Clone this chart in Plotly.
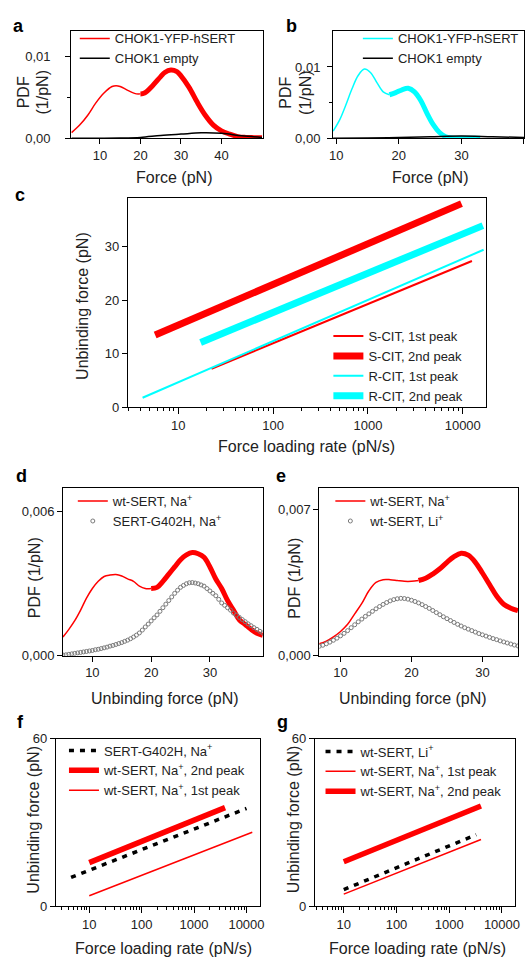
import plotly.graph_objects as go

W, H = 529, 965
FONT = "Liberation Sans, Arial, sans-serif"
RED = "#ff0000"
CYAN = "#00ffff"
GREY = "#7a7a7a"
TXT = "#222222"

# ---------------- data ----------------
# panel a
a_force = [3, 5, 7, 9, 11, 13, 14, 15, 17, 19, 20, 21, 23, 25, 26, 27.5, 29, 30, 32, 34, 36, 38, 40, 42, 44, 46, 48, 50]
a_pdf_hsert = [0.00068, 0.0016, 0.0028, 0.0043, 0.0055, 0.0063, 0.0064, 0.0063, 0.0058, 0.0054, 0.0054, 0.0055,
               0.0064, 0.0075, 0.0080, 0.0083, 0.0081, 0.0076, 0.0062, 0.0044, 0.0028, 0.0016, 0.0009, 0.0005,
               0.0002, 0.0001, 0.00007, 0.00005]
a_split = 20
a_force_empty = [3, 10, 15, 20, 25, 30, 35, 40, 45, 50]
a_pdf_empty = [0, 0, 0.00002, 0.0001, 0.00033, 0.0005, 0.00066, 0.0006, 0.0003, 0.0001]
a_yticks = [0, 0.01]
a_yticktext = ["0,00", "0,01"]
a_xticks = [10, 20, 30, 40]

# panel b
b_force = [9.5, 10.5, 11.5, 12.5, 13.5, 14.5, 15.5, 16.5, 17.5, 18.5, 19.5, 20.5, 21.5, 22.5, 23.5, 24.5,
           25.5, 26.5, 27.5, 28.5, 30, 33]
b_pdf_hsert = [0.0010, 0.0025, 0.0046, 0.0069, 0.0088, 0.0097, 0.0092, 0.0078, 0.0065, 0.0061, 0.0064, 0.0068,
               0.0070, 0.0065, 0.0053, 0.0035, 0.0019, 0.0008, 0.0002, 0.00005, 0.0, 0.0]
b_split = 18.5
b_force_empty = [9.5, 15, 20, 25, 30, 35, 40.5]
b_pdf_empty = [0, 0.00003, 0.0001, 0.0002, 0.0003, 0.0002, 0.0001]
b_yticks = [0, 0.01]
b_yticktext = ["0,00", "0,01"]
b_xticks = [10, 20, 30, 40]

# panel c (force spectroscopy fits, endpoints)
c_scit1_rate, c_scit1_force = [22.4, 12500], [7.2, 27.3]
c_scit2_rate, c_scit2_force = [5.7, 9700], [13.5, 38.0]
c_rcit1_rate, c_rcit1_force = [4.2, 16600], [1.8, 29.4]
c_rcit2_rate, c_rcit2_force = [17.2, 16300], [12.1, 33.9]
log_ticks = [10, 100, 1000, 10000]
log_ticktext = ["10", "100", "1000", "10000"]
c_yticks = [0, 10, 20, 30]

# panel d
d_force = list(range(5, 40))
d_pdf_wt = [0.00078, 0.0011, 0.00146, 0.0019, 0.0024, 0.0028, 0.0031, 0.0033, 0.00336, 0.00338, 0.00332, 0.0032,
            0.0031, 0.0029, 0.0028, 0.0028, 0.00285, 0.0031, 0.0034, 0.0037, 0.0040, 0.0042, 0.0043, 0.00425,
            0.0041, 0.0037, 0.0032, 0.0028, 0.0023, 0.0019, 0.0015, 0.0013, 0.0011, 0.00094, 0.00085]
d_split = 20
d_force_mut = [5.0 + 0.5 * i for i in range(69)]
d_pdf_mut = [0.00003, 0.00004, 0.00006, 0.00008, 0.0001, 0.00012, 0.00014, 0.00016, 0.00018, 0.0002,
             0.00022, 0.00025, 0.00027, 0.0003, 0.00033, 0.00036, 0.0004, 0.00043, 0.00047, 0.00051,
             0.00055, 0.0006, 0.00065, 0.00071, 0.00078, 0.00086, 0.00095, 0.00107, 0.0012, 0.00132,
             0.00145, 0.00158, 0.0017, 0.00185, 0.002, 0.00215, 0.0023, 0.00245, 0.0026, 0.00273,
             0.00285, 0.00293, 0.003, 0.00304, 0.00305, 0.00303, 0.003, 0.00295, 0.0029, 0.0028,
             0.0027, 0.0026, 0.0025, 0.00235, 0.0022, 0.0021, 0.002, 0.0019, 0.00178, 0.00169,
             0.0016, 0.00151, 0.00142, 0.00133, 0.00125, 0.00117, 0.0011, 0.00102, 0.00095]
d_yticks = [0, 0.006]
d_yticktext = ["0,000", "0,006"]
d_xticks = [10, 20, 30]

# panel e
e_force = list(range(7, 36))
e_pdf_na = [0.00058, 0.0007, 0.0009, 0.00116, 0.0015, 0.002, 0.0025, 0.0031, 0.0035, 0.00363, 0.00363,
            0.00359, 0.00355, 0.00355, 0.00359, 0.0037, 0.0039, 0.00415, 0.00446, 0.00473, 0.00489, 0.0048,
            0.00446, 0.00395, 0.0034, 0.00285, 0.00246, 0.00227, 0.00215]
e_split = 21
e_force_li = [7.0 + 0.5 * i for i in range(57)]
e_pdf_li = [0.00045, 0.0005, 0.00057, 0.00065, 0.00074, 0.00084, 0.00095, 0.00107, 0.0012, 0.00134,
            0.00148, 0.00162, 0.00175, 0.00188, 0.002, 0.00212, 0.00224, 0.00235, 0.00245, 0.00254,
            0.00262, 0.00268, 0.00272, 0.00274, 0.00273, 0.0027, 0.00265, 0.00259, 0.00252, 0.00244,
            0.00235, 0.00226, 0.00216, 0.00206, 0.00196, 0.00186, 0.00177, 0.00168, 0.00159, 0.0015,
            0.00142, 0.00134, 0.00127, 0.0012, 0.00113, 0.00106, 0.001, 0.00094, 0.00088, 0.00082,
            0.00077, 0.00071, 0.00066, 0.00061, 0.00056, 0.00051, 0.00047]
e_yticks = [0, 0.007]
e_yticktext = ["0,000", "0,007"]
e_xticks = [10, 20, 30]

# panel f
f_mut_rate, f_mut_force = [4.5, 10000], [10.3, 35.0]
f_wt2_rate, f_wt2_force = [10, 3900], [15.6, 35.3]
f_wt1_rate, f_wt1_force = [10, 12900], [3.7, 26.5]
fg_yticks = [0, 60]

# panel g
g_li_rate, g_li_force = [10, 3240], [5.9, 25.6]
g_wt1_rate, g_wt1_force = [10, 4000], [4.3, 23.9]
g_wt2_rate, g_wt2_force = [10, 4000], [15.9, 35.9]

# ---------------- helpers ----------------
def xd(l, r):
    return [l / W, r / W]


def yd(t, b):
    return [1 - b / H, 1 - t / H]


def split(xs, ys, at, below):
    pts = [(x, y) for x, y in zip(xs, ys) if (x <= at if below else x >= at)]
    return [p[0] for p in pts], [p[1] for p in pts]


def axis(domain, anchor, rng, **kw):
    d = dict(domain=domain, anchor=anchor, range=rng, showline=True, linecolor="black", linewidth=1,
             mirror=True, ticks="outside", ticklen=5, tickwidth=1, tickcolor="black", showgrid=False,
             zeroline=False, tickfont=dict(size=13, color=TXT, family=FONT))
    d.update(kw)
    return d


def legend_at(px, py):
    return dict(x=px / W, y=1 - py / H, xanchor="left", yanchor="top", bgcolor="rgba(0,0,0,0)",
                borderwidth=0, font=dict(size=13, color=TXT, family=FONT), tracegroupgap=0,
                itemwidth=30, traceorder="normal")


fig = go.Figure()

# ---- panel a ----
x1, y1 = split(a_force, a_pdf_hsert, a_split, True)
x2, y2 = split(a_force, a_pdf_hsert, a_split, False)
fig.add_trace(go.Scatter(x=x1, y=y1, mode="lines", line=dict(color=RED, width=1.5, shape="spline"),
                         name="CHOK1-YFP-hSERT", xaxis="x", yaxis="y", legend="legend"))
fig.add_trace(go.Scatter(x=x2, y=y2, mode="lines", line=dict(color=RED, width=5, shape="spline"),
                         showlegend=False, xaxis="x", yaxis="y"))
fig.add_trace(go.Scatter(x=a_force_empty, y=a_pdf_empty, mode="lines",
                         line=dict(color="black", width=1.5, shape="spline"),
                         name="CHOK1 empty", xaxis="x", yaxis="y", legend="legend"))

# ---- panel b ----
x1, y1 = split(b_force, b_pdf_hsert, b_split, True)
x2, y2 = split(b_force, b_pdf_hsert, b_split, False)
fig.add_trace(go.Scatter(x=x1, y=y1, mode="lines", line=dict(color=CYAN, width=1.5, shape="spline"),
                         name="CHOK1-YFP-hSERT", xaxis="x2", yaxis="y2", legend="legend2"))
fig.add_trace(go.Scatter(x=x2, y=y2, mode="lines", line=dict(color=CYAN, width=5, shape="spline"),
                         showlegend=False, xaxis="x2", yaxis="y2"))
fig.add_trace(go.Scatter(x=b_force_empty, y=b_pdf_empty, mode="lines",
                         line=dict(color="black", width=1.5, shape="spline"),
                         name="CHOK1 empty", xaxis="x2", yaxis="y2", legend="legend2"))

# ---- panel c ----
for xs, ys, col, wd, nm in [(c_scit1_rate, c_scit1_force, RED, 2, "S-CIT, 1st peak"),
                            (c_scit2_rate, c_scit2_force, RED, 7, "S-CIT, 2nd peak"),
                            (c_rcit1_rate, c_rcit1_force, CYAN, 2, "R-CIT, 1st peak"),
                            (c_rcit2_rate, c_rcit2_force, CYAN, 7, "R-CIT, 2nd peak")]:
    fig.add_trace(go.Scatter(x=xs, y=ys, mode="lines", line=dict(color=col, width=wd), name=nm,
                             xaxis="x3", yaxis="y3", legend="legend3"))

# ---- panel d ----
x1, y1 = split(d_force, d_pdf_wt, d_split, True)
x2, y2 = split(d_force, d_pdf_wt, d_split, False)
fig.add_trace(go.Scatter(x=x1, y=y1, mode="lines", line=dict(color=RED, width=1.5, shape="spline"),
                         name="wt-SERT, Na<sup>+</sup>", xaxis="x4", yaxis="y4", legend="legend4"))
fig.add_trace(go.Scatter(x=x2, y=y2, mode="lines", line=dict(color=RED, width=5, shape="spline"),
                         showlegend=False, xaxis="x4", yaxis="y4"))
fig.add_trace(go.Scatter(x=d_force_mut, y=d_pdf_mut, mode="markers",
                         marker=dict(symbol="circle-open", size=4, color=GREY, line=dict(width=1, color=GREY)),
                         name="SERT-G402H, Na<sup>+</sup>", xaxis="x4", yaxis="y4", legend="legend4"))

# ---- panel e ----
x1, y1 = split(e_force, e_pdf_na, e_split, True)
x2, y2 = split(e_force, e_pdf_na, e_split, False)
fig.add_trace(go.Scatter(x=x1, y=y1, mode="lines", line=dict(color=RED, width=1.5, shape="spline"),
                         name="wt-SERT, Na<sup>+</sup>", xaxis="x5", yaxis="y5", legend="legend5"))
fig.add_trace(go.Scatter(x=x2, y=y2, mode="lines", line=dict(color=RED, width=5, shape="spline"),
                         showlegend=False, xaxis="x5", yaxis="y5"))
fig.add_trace(go.Scatter(x=e_force_li, y=e_pdf_li, mode="markers",
                         marker=dict(symbol="circle-open", size=4, color=GREY, line=dict(width=1, color=GREY)),
                         name="wt-SERT, Li<sup>+</sup>", xaxis="x5", yaxis="y5", legend="legend5"))

# ---- panel f ----
fig.add_trace(go.Scatter(x=f_mut_rate, y=f_mut_force, mode="lines",
                         line=dict(color="black", width=3.5, dash="5px,6px"),
                         name="SERT-G402H, Na<sup>+</sup>", xaxis="x6", yaxis="y6", legend="legend6"))
fig.add_trace(go.Scatter(x=f_wt2_rate, y=f_wt2_force, mode="lines", line=dict(color=RED, width=5.5),
                         name="wt-SERT, Na<sup>+</sup>, 2nd peak", xaxis="x6", yaxis="y6", legend="legend6"))
fig.add_trace(go.Scatter(x=f_wt1_rate, y=f_wt1_force, mode="lines", line=dict(color=RED, width=1.5),
                         name="wt-SERT, Na<sup>+</sup>, 1st peak", xaxis="x6", yaxis="y6", legend="legend6"))

# ---- panel g ----
fig.add_trace(go.Scatter(x=g_li_rate, y=g_li_force, mode="lines",
                         line=dict(color="black", width=3.5, dash="5px,6px"),
                         name="wt-SERT, Li<sup>+</sup>", xaxis="x7", yaxis="y7", legend="legend7"))
fig.add_trace(go.Scatter(x=g_wt1_rate, y=g_wt1_force, mode="lines", line=dict(color=RED, width=1.5),
                         name="wt-SERT, Na<sup>+</sup>, 1st peak", xaxis="x7", yaxis="y7", legend="legend7"))
fig.add_trace(go.Scatter(x=g_wt2_rate, y=g_wt2_force, mode="lines", line=dict(color=RED, width=5.5),
                         name="wt-SERT, Na<sup>+</sup>, 2nd peak", xaxis="x7", yaxis="y7", legend="legend7"))

# ---------------- axes ----------------
minor_log = [m * 10 ** k for k in range(0, 5) for m in range(2, 10)]
log_minor = dict(tickvals=minor_log, ticks="outside", ticklen=3, tickwidth=1, tickcolor="black", showgrid=False)

layout_axes = dict(
    xaxis=axis(xd(68.3, 263.3), "y", [2.9, 50.2], tickvals=a_xticks),
    yaxis=axis(yd(24, 133.3), "x", [0, 0.0131], tickvals=a_yticks, ticktext=a_yticktext,
               ticklabelstandoff=12,
               minor=dict(tickvals=[0.005], ticks="outside", ticklen=3, tickcolor="black")),
    xaxis2=axis(xd(334.7, 529), "y2", [9.48, 40.0], tickvals=b_xticks),
    yaxis2=axis(yd(24, 133.3), "x2", [0, 0.0151], tickvals=b_yticks, ticktext=b_yticktext,
                ticklabelstandoff=4,
                minor=dict(tickvals=[0.005], ticks="outside", ticklen=3, tickcolor="black")),
    xaxis3=axis(xd(126, 490.7), "y3", [0.468, 4.249], type="log", tickvals=log_ticks, ticktext=log_ticktext,
                ticklen=6, minor=log_minor),
    yaxis3=axis(yd(194.3, 406.7), "x3", [0, 39], tickvals=c_yticks),
    xaxis4=axis(xd(60, 263.3), "y4", [5, 39], tickvals=d_xticks),
    yaxis4=axis(yd(488.3, 659), "x4", [0, 0.0070], tickvals=d_yticks, ticktext=d_yticktext),
    xaxis5=axis(xd(320.7, 523.3), "y5", [7, 35.07], tickvals=e_xticks),
    yaxis5=axis(yd(488.3, 659), "x5", [0, 0.00802], tickvals=e_yticks, ticktext=e_yticktext),
    xaxis6=axis(xd(52.7, 260), "y6", [0.362, 4.25], type="log", tickvals=log_ticks, ticktext=log_ticktext,
                ticklen=6, minor=log_minor),
    yaxis6=axis(yd(743.3, 913.3), "x6", [0, 60], tickvals=fg_yticks),
    xaxis7=axis(xd(316.3, 520), "y7", [0.453, 4.25], type="log", tickvals=log_ticks, ticktext=log_ticktext,
                ticklen=6, minor=log_minor),
    yaxis7=axis(yd(743.3, 913.3), "x7", [0, 60], tickvals=fg_yticks),
)

# ---------------- annotations (panel letters and axis titles) ----------------
ann = []


def add_text(txt, px, py, size=16, angle=0, bold=False):
    f = dict(size=size, color="black" if bold else TXT, family=FONT)
    if bold:
        f["weight"] = "bold"
    ann.append(dict(text=txt, x=px / W, y=1 - py / H, xref="paper",
                    yref="paper", xanchor="center", yanchor="middle", showarrow=False, textangle=angle,
                    font=f))


for letter, px, py in [("a", 15, 19), ("b", 292, 19), ("c", 16.5, 190.5), ("d", 18, 476),
                       ("e", 282, 476.5), ("f", 17, 726), ("g", 283, 726)]:
    add_text(letter, px, py, size=18, bold=True)

add_text("PDF", 20, 87, angle=-90)
add_text("(1/pN)", 39.5, 87, angle=-90)
add_text("PDF", 287, 87, angle=-90)
add_text("(1/pN)", 306.5, 87, angle=-90)
add_text("Force (pN)", 173, 173)
add_text("Force (pN)", 433, 173)
add_text("Unbinding force (pN)", 80, 304, angle=-90)
add_text("Force loading rate (pN/s)", 308, 446)
add_text("PDF (1/pN)", 31.7, 580, angle=-90)
add_text("PDF (1/pN)", 295.7, 580, angle=-90)
add_text("Unbinding force (pN)", 164, 702)
add_text("Unbinding force (pN)", 416, 702)
add_text("Unbinding force (pN)", 30, 825, angle=-90)
add_text("Unbinding force (pN)", 294, 825, angle=-90)
add_text("Force loading rate (pN/s)", 162.5, 956.7)
add_text("Force loading rate (pN/s)", 420.7, 956.7)

fig.update_layout(
    width=W, height=H, margin=dict(l=0, r=0, t=0, b=0), autosize=False,
    paper_bgcolor="white", plot_bgcolor="white",
    font=dict(family=FONT, size=13, color=TXT),
    annotations=ann,
    legend=legend_at(72, 16.7),
    legend2=legend_at(360, 16.7),
    legend3=legend_at(330, 319),
    legend4=legend_at(70, 486.7),
    legend5=legend_at(332, 486.7),
    legend6=legend_at(61, 740),
    legend7=legend_at(322, 741),
    **layout_axes,
)

fig.write_html("out.html")
